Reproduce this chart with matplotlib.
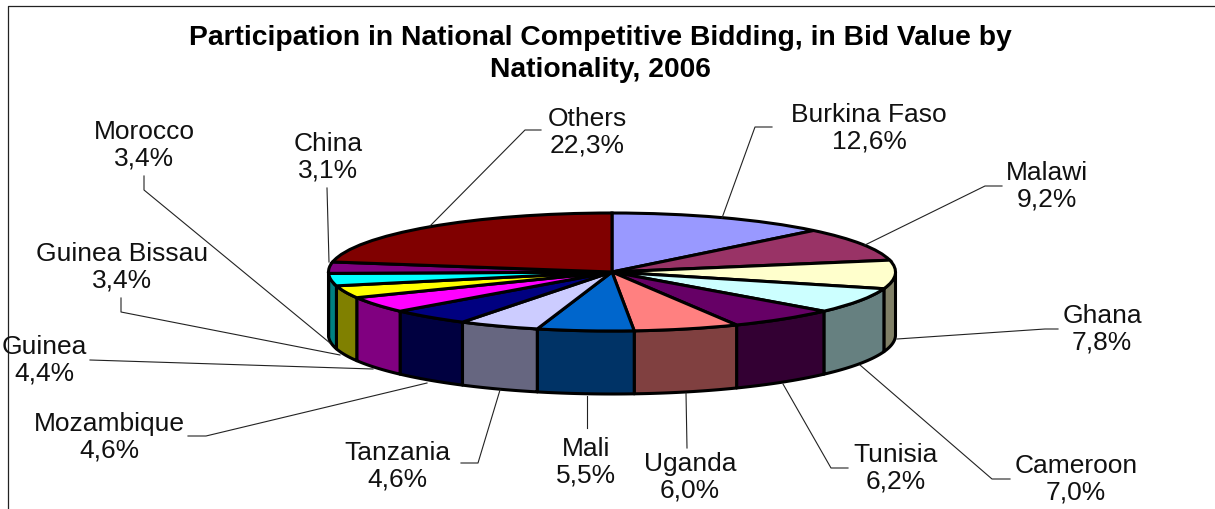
import numpy as np
import matplotlib
matplotlib.use('Agg')
import matplotlib.pyplot as plt

plt.rcParams['font.family'] = ['Liberation Sans', 'DejaVu Sans']

# chart data, clockwise from 12 o'clock
countries = ['Burkina Faso', 'Malawi', 'Ghana', 'Cameroon', 'Tunisia', 'Uganda', 'Mali',
             'Tanzania', 'Mozambique', 'Guinea', 'Guinea Bissau', 'Morocco', 'China', 'Others']
shares = [12.6, 9.2, 7.8, 7.0, 6.2, 6.0, 5.5, 4.6, 4.6, 4.4, 3.4, 3.4, 3.1, 22.3]
top_colors = ['#9999FF', '#993366', '#FFFFCC', '#CCFFFF', '#660066', '#FF8080', '#0066CC',
              '#CCCCFF', '#000080', '#FF00FF', '#FFFF00', '#00FFFF', '#800080', '#800000']
side_colors = ['#4D4D80', '#4D1A33', '#808066', '#668080', '#330033', '#804040', '#003366',
               '#666680', '#000040', '#800080', '#808000', '#008080', '#400040', '#400000']
title_lines = 'Participation in National Competitive Bidding, in Bid Value by\nNationality, 2006'

# layout in image pixels
W, H = 1215, 509
cx, cy = 612, 272
rx, ry = 283.5, 59
depth = 63
label_pos = [(869, 128), (1047, 186), (1102, 329), (1076, 479), (896, 468), (690, 477), (586, 462),
             (397, 466), (109, 437), (44, 360), (122, 267), (144, 145), (328, 157), (587, 132)]
leaders = [
    [(772, 127), (755, 127), (722, 218)],
    [(1002, 186), (985, 186), (865, 245)],
    [(1058, 329), (1045, 329), (897, 339)],
    [(1010, 479), (992, 479), (860, 365)],
    [(848, 468), (831, 468), (783, 384)],
    [(686, 393), (687, 448)],
    [(587, 396), (587, 428)],
    [(461, 463), (478, 463), (500, 390)],
    [(188, 436), (206, 436), (427, 383)],
    [(90, 360), (373, 369)],
    [(121, 298), (121, 312), (340, 355)],
    [(144, 176), (144, 190), (330, 343)],
    [(327, 188), (329, 262)],
    [(541, 130), (525, 130), (430, 226)],
]


def draw_sides(ax, values):
    # rim of the pie: only the front half (90 to 270 deg clockwise from the top) shows
    edges = np.cumsum([0] + list(values)) / sum(values) * 360
    for i in range(len(values)):
        start = max(edges[i], 90)
        end = min(edges[i + 1], 270)
        if end <= start:
            continue
        t = np.radians(np.linspace(start, end, 40))
        x = np.sin(t)
        y = np.cos(t)
        xs = np.concatenate([x, x[::-1]])
        ys = np.concatenate([y, y[::-1] - depth / ry])
        ax.fill(xs, ys, facecolor=side_colors[i], edgecolor='black', linewidth=2.2,
                joinstyle='round', zorder=2)


fig = plt.figure(figsize=(W / 100, H / 100), dpi=100)

# pie axes: unit radius stretched into the ellipse
ax = fig.add_axes([0, 0, 1, 1])
draw_sides(ax, shares)
ax.pie(shares, colors=top_colors, startangle=90, counterclock=False, radius=1,
       wedgeprops={'edgecolor': 'black', 'linewidth': 2.2, 'zorder': 3})
ax.set_aspect('auto')
ax.set_xlim(-cx / rx, (W - cx) / rx)
ax.set_ylim(-(H - cy) / ry, cy / ry)
ax.axis('off')

# overlay in pixel coordinates for frame, leaders and text
over = fig.add_axes([0, 0, 1, 1], facecolor='none')
over.set_xlim(0, W)
over.set_ylim(H, 0)
over.axis('off')

over.plot([8, 8, W], [H, 6, 6], color='#222222', linewidth=0.9)

for pts in leaders:
    xs, ys = zip(*pts)
    over.plot(xs, ys, color='#222222', linewidth=0.8, zorder=1)

over.text(600, 54, title_lines, ha='center', va='center', fontsize=20.3, fontweight='bold',
          linespacing=1.26)

for name, share, (x, y) in zip(countries, shares, label_pos):
    label = f'{name}\n{share:.1f}%'.replace('.', ',')
    over.text(x, y, label, ha='center', va='center', fontsize=19, linespacing=1.11, color='#111111')

fig.savefig('out.png', dpi=100)
